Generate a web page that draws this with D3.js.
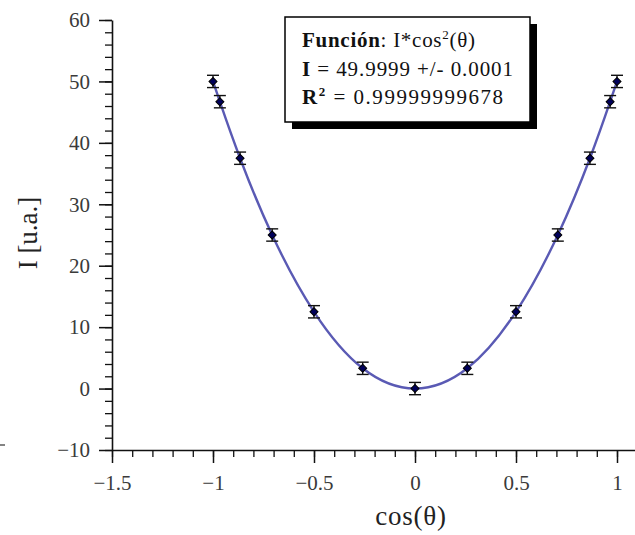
<!DOCTYPE html>
<html>
<head>
<meta charset="utf-8">
<script src="https://cdn.jsdelivr.net/npm/d3@7"></script>
<style>
  body { margin: 0; background: #fff; }
  svg { display: block; }
</style>
</head>
<body>
<script>
// measured points: cos(theta) vs intensity
var cosTheta = [-1, -0.966, -0.866, -0.707, -0.5, -0.259, 0, 0.259, 0.5, 0.707, 0.866, 0.966, 1];
var intensity = [50, 46.7, 37.5, 25, 12.5, 3.3, 0, 3.3, 12.5, 25, 37.5, 46.7, 50];
var errI = [1, 1, 1, 1, 1, 1, 1, 1, 1, 1, 1, 1, 1];

var xTicks = [-1.5, -1, -0.5, 0, 0.5, 1];
var yTicks = [-10, 0, 10, 20, 30, 40, 50, 60];

var width = 635, height = 535;
var serif = "'Liberation Serif', serif";

var svg = d3.select("body").append("svg")
    .attr("width", width)
    .attr("height", height);

var x = d3.scaleLinear().domain([-1.5, 1.1]).range([112, 112 + 2.6 * 202]);
var y = d3.scaleLinear().domain([-10, 60]).range([450, 20]);

var fmt = d3.format("");

// minor ticks
svg.append("g")
    .attr("transform", "translate(0,450)")
    .call(d3.axisBottom(x).tickValues(d3.range(-15, 12).map(d => d / 10)).tickSize(7).tickFormat(""))
    .call(g => g.select(".domain").remove())
    .selectAll("line").attr("stroke", "#111").attr("stroke-width", 1.3);

svg.append("g")
    .attr("transform", "translate(112,0)")
    .call(d3.axisLeft(y).tickValues(d3.range(-10, 61, 2)).tickSize(7).tickFormat(""))
    .call(g => g.select(".domain").remove())
    .selectAll("line").attr("stroke", "#111").attr("stroke-width", 1.3);

// major axes
var xAxis = svg.append("g")
    .attr("transform", "translate(0,450)")
    .call(d3.axisBottom(x).tickValues(xTicks).tickFormat(fmt).tickSize(13).tickPadding(12).tickSizeOuter(0));

var yAxis = svg.append("g")
    .attr("transform", "translate(112,0)")
    .call(d3.axisLeft(y).tickValues(yTicks).tickFormat(fmt).tickSize(13).tickPadding(9).tickSizeOuter(0));

[xAxis, yAxis].forEach(function(g) {
    g.attr("font-family", serif);
    g.select(".domain").attr("stroke", "#111").attr("stroke-width", 1.6);
    g.selectAll(".tick line").attr("stroke", "#111").attr("stroke-width", 1.5);
    g.selectAll(".tick text")
        .style("font-family", serif)
        .style("font-size", "21px")
        .attr("fill", "#3a3a3a");
});

// axis titles
svg.append("text")
    .attr("x", 411).attr("y", 525)
    .attr("text-anchor", "middle")
    .style("font-family", serif)
    .style("font-size", "27px")
    .style("letter-spacing", "0.8px")
    .attr("fill", "#222")
    .text("cos(θ)");

svg.append("text")
    .attr("transform", "translate(37,233) rotate(-90)")
    .attr("text-anchor", "middle")
    .style("font-family", serif)
    .style("font-size", "27px")
    .attr("fill", "#222")
    .text("I [u.a.]");

// small stray mark at left edge
svg.append("line")
    .attr("x1", 0).attr("x2", 5).attr("y1", 445).attr("y2", 445)
    .attr("stroke", "#333").attr("stroke-width", 1.2);

var points = cosTheta.map(function(c, i) {
    return { x: c, y: intensity[i], e: errI[i] };
});

// fit line drawn smoothly through the points
var line = d3.line()
    .x(d => x(d.x))
    .y(d => y(d.y))
    .curve(d3.curveNatural);

svg.append("path")
    .datum(points)
    .attr("d", line)
    .attr("fill", "none")
    .attr("stroke", "#5a5ab4")
    .attr("stroke-width", 2.4);

// error bars
var eb = svg.append("g").attr("stroke", "#111").attr("stroke-width", 1.4);
points.forEach(function(d) {
    eb.append("line")
        .attr("x1", x(d.x)).attr("x2", x(d.x))
        .attr("y1", y(d.y - d.e)).attr("y2", y(d.y + d.e));
    eb.append("line")
        .attr("x1", x(d.x) - 6).attr("x2", x(d.x) + 6)
        .attr("y1", y(d.y - d.e)).attr("y2", y(d.y - d.e));
    eb.append("line")
        .attr("x1", x(d.x) - 6).attr("x2", x(d.x) + 6)
        .attr("y1", y(d.y + d.e)).attr("y2", y(d.y + d.e));
});

// markers
svg.selectAll(".dot")
    .data(points)
    .enter().append("path")
        .attr("class", "dot")
        .attr("d", d3.symbol().type(d3.symbolSquare).size(32))
        .attr("transform", d => "translate(" + x(d.x) + "," + y(d.y) + ") rotate(45)")
        .attr("fill", "#00005a")
        .attr("stroke", "#000")
        .attr("stroke-width", 1);

// legend box with shadow
var leg = svg.append("g");
leg.append("rect")
    .attr("x", 292).attr("y", 24).attr("width", 245).attr("height", 105)
    .attr("fill", "#000");
leg.append("rect")
    .attr("x", 285).attr("y", 17).attr("width", 245).attr("height", 105)
    .attr("fill", "#fff").attr("stroke", "#000").attr("stroke-width", 1.5);

function legLine(yy, len) {
    return leg.append("text")
        .attr("x", 302).attr("y", yy)
        .attr("textLength", len)
        .attr("lengthAdjust", "spacing")
        .style("font-family", serif)
        .style("font-size", "21px")
        .attr("fill", "#111");
}

var l1 = legLine(47, 173);
l1.append("tspan").attr("font-weight", "bold").text("Función");
l1.append("tspan").text(": I*cos");
l1.append("tspan").attr("dy", -8).style("font-size", "13px").text("2");
l1.append("tspan").attr("dy", 8).text("(θ)");

var l2 = legLine(76, 211);
l2.append("tspan").attr("font-weight", "bold").text("I");
l2.append("tspan").text(" = 49.9999 +/- 0.0001");

var l3 = legLine(104, 201);
l3.append("tspan").attr("font-weight", "bold").text("R");
l3.append("tspan").attr("font-weight", "bold").attr("dy", -8).style("font-size", "13px").text("2");
l3.append("tspan").attr("dy", 8).text(" = 0.99999999678");
</script>
</body>
</html>
